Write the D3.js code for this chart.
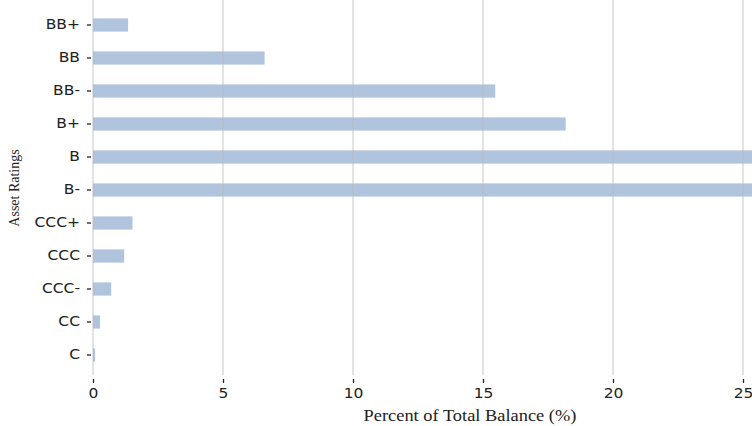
<!DOCTYPE html>
<html>
<head>
<meta charset="utf-8">
<script src="https://cdn.jsdelivr.net/npm/d3@7"></script>
<style>
  body { margin: 0; background: #fff; }
  svg { display: block; }
</style>
</head>
<body>
<div id="chart"></div>
<script>
// ratings, top to bottom
var ratings = ["BB+", "BB", "BB-", "B+", "B", "B-", "CCC+", "CCC", "CCC-", "CC", "C"];
var percents = [1.35, 6.6, 15.47, 18.18, 27.6, 27.2, 1.52, 1.2, 0.7, 0.27, 0.08];
var xTicks = [0, 5, 10, 15, 20, 25];

var svgWidth = 752;
var svgHeight = 426;

var margin = { top: 0, right: 0, bottom: 51, left: 93 };
var chartWidth = svgWidth - margin.left - margin.right;
var chartHeight = svgHeight - margin.top - margin.bottom;

// the source picture is a little stretched sideways
var stretch = 1.15;

var svg = d3.select("#chart")
  .append("svg")
  .attr("width", svgWidth)
  .attr("height", svgHeight);

var chartGroup = svg.append("g")
  .attr("transform", `translate(${margin.left}, ${margin.top})`);

// 26px per percent point
var xScale = d3.scaleLinear()
  .domain([0, 25])
  .range([0, 650]);

var yScale = d3.scaleBand()
  .domain(ratings)
  .range([8.5, 371.5])
  .paddingInner(0.6)
  .paddingOuter(0.3);

// clip so the long bars run off the right edge
svg.append("clipPath").attr("id", "plot")
  .append("rect")
  .attr("x", 0).attr("y", 0)
  .attr("width", chartWidth).attr("height", chartHeight);

var data = ratings.map(function(r, i) { return { rating: r, value: percents[i] }; });

chartGroup.append("g")
  .attr("clip-path", "url(#plot)")
  .selectAll("rect")
  .data(data)
  .enter()
  .append("rect")
  .attr("x", xScale(0))
  .attr("y", d => yScale(d.rating))
  .attr("width", d => xScale(d.value) - xScale(0))
  .attr("height", yScale.bandwidth())
  .attr("fill", "#b0c4de");

// gridlines over the bars
chartGroup.append("g")
  .selectAll("line")
  .data(xTicks)
  .enter()
  .append("line")
  .attr("x1", d => xScale(d))
  .attr("x2", d => xScale(d))
  .attr("y1", 0)
  .attr("y2", chartHeight)
  .attr("stroke", "#b8b8b8")
  .attr("stroke-opacity", 0.4)
  .attr("stroke-width", 2);

// x axis
var bottomAxis = d3.axisBottom(xScale)
  .tickValues(xTicks)
  .tickSize(4)
  .tickPadding(5);

var xAxis = chartGroup.append("g")
  .attr("transform", "translate(0, " + (chartHeight + 4) + ")")
  .call(bottomAxis);
xAxis.select(".domain").remove();
xAxis.selectAll("line").attr("stroke", "#222").attr("stroke-width", 1.3);
xAxis.selectAll("text")
  .attr("transform", "translate(0,9) scale(" + stretch + ",1)")
  .attr("y", 0)
  .attr("font-family", "DejaVu Sans, sans-serif")
  .attr("font-size", 13.5)
  .attr("fill", "#222");

// y axis
var leftAxis = d3.axisLeft(yScale)
  .tickSize(4)
  .tickPadding(5);

var yAxis = chartGroup.append("g")
  .attr("transform", "translate(-2, 0)")
  .call(leftAxis);
yAxis.select(".domain").remove();
yAxis.selectAll("line").attr("stroke", "#222").attr("stroke-width", 1.3);
yAxis.selectAll("text")
  .attr("x", 0)
  .attr("transform", "translate(-11,0) scale(" + stretch + ",1)")
  .attr("font-family", "DejaVu Sans, sans-serif")
  .attr("font-size", 13.5)
  .attr("fill", "#222");

// axis titles
svg.append("text")
  .attr("transform", "translate(470, 421) scale(" + stretch + ",1)")
  .attr("text-anchor", "middle")
  .attr("font-family", "Liberation Serif, Times New Roman, serif")
  .attr("font-size", 16)
  .attr("fill", "#222")
  .text("Percent of Total Balance (%)");

svg.append("text")
  .attr("transform", "translate(19, 188) rotate(-90) scale(1,1.1)")
  .attr("text-anchor", "middle")
  .attr("font-family", "Liberation Serif, Times New Roman, serif")
  .attr("font-size", 14)
  .attr("fill", "#222")
  .text("Asset Ratings");
</script>
</body>
</html>
